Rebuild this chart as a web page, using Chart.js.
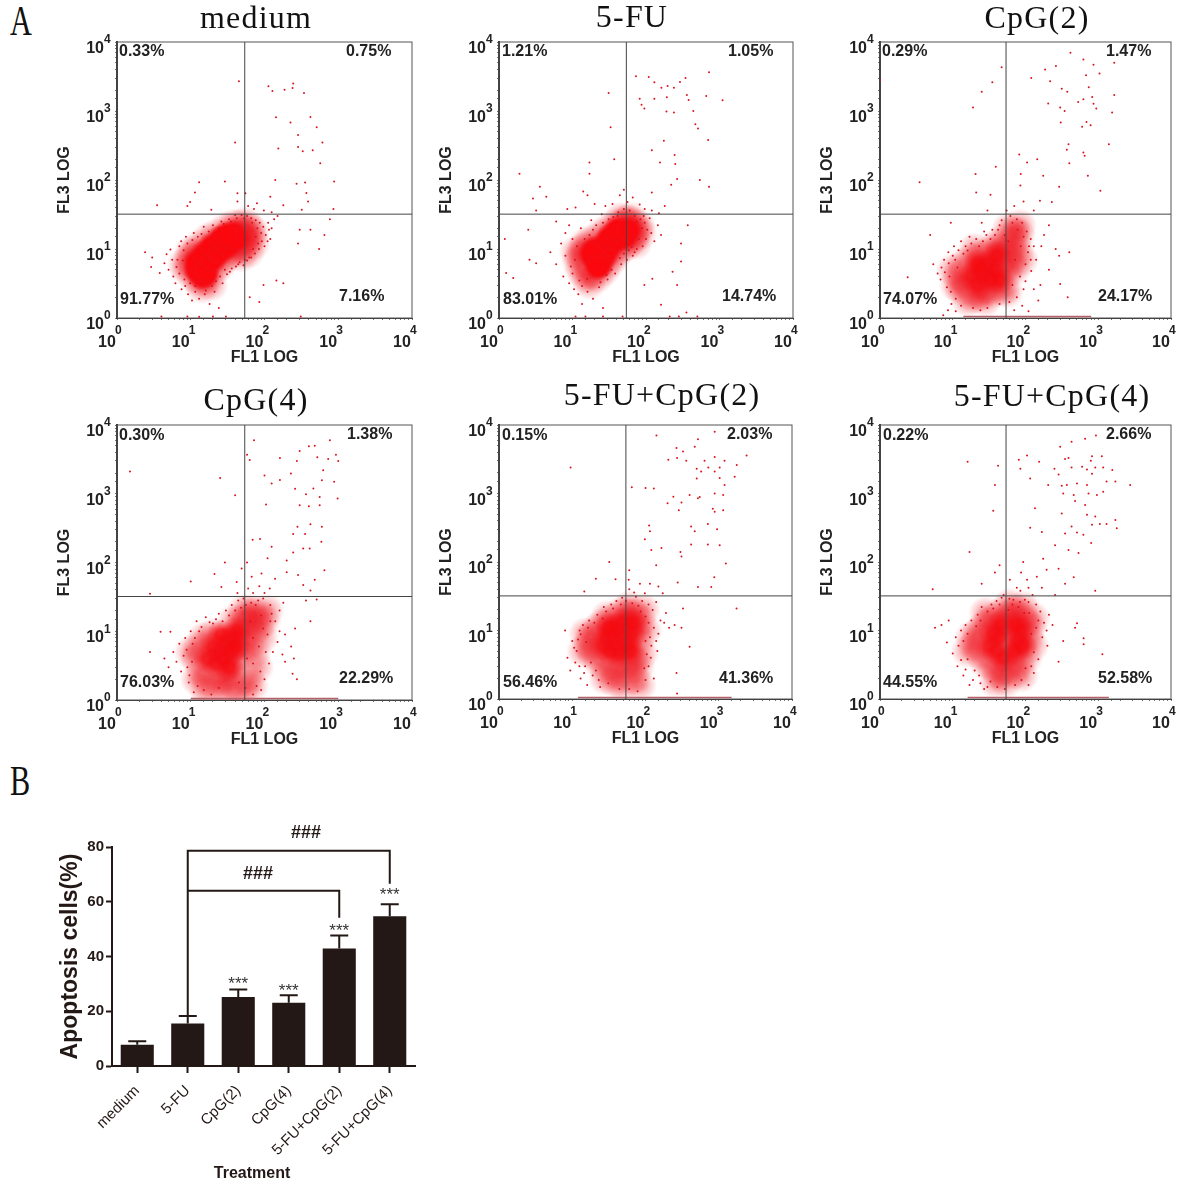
<!DOCTYPE html>
<html>
<head>
<meta charset="utf-8">
<title>Apoptosis flow cytometry</title>
<script src="https://cdn.jsdelivr.net/npm/chart.js@4"></script>
<style>
body { margin: 0; background: #fff; }
canvas { position: absolute; }
.tag { position: absolute; font: 42px "Liberation Serif", serif; color: #111; transform: scaleX(0.72); transform-origin: left top; }
</style>
</head>
<body>
<div class="tag" style="left:10px;top:-3px">A</div>
<div class="tag" style="left:10px;top:757px">B</div>
<script>
// ---- values ----
const gateX = 54;
const gateY = 32;
const tickPowers = [0, 1, 2, 3, 4];

const mediumCore = [[14,4],[16,4.2],[12,5],[13,5],[15,6.5],[12,6.5],[16,5],[18,8],[15,8.5],[20,7],[22,10],[19,11],[25,9],[28,12],[25,14],[32,11],[35,14],[38,17],[42,14],[30,16]];
const mediumMid = [[9,5],[9.5,7],[10,9],[11,4],[13,3.5],[17,3.8],[21,5],[25,6],[30,7.5],[36,9],[42,10],[48,11],[50,18],[45,22],[38,22],[30,20],[22,16],[17,14],[13,11],[11,8.5],[50,14],[58,13],[65,15],[70,18],[62,20],[55,24],[48,8],[60,9],[72,12],[8,6],[14,2.8],[19,3]];
const mediumDots = [[45,2700],[113,2290],[128,1950],[187,2040],[240,2150],[245,2500],[343,1830],[143,810],[420,820],[225,680],[510,580],[285,450],[40,350],[610,350],[154,285],[285,300],[450,270],[330,260],[570,175],[140,100],[880,95],[355,92],[272,88],[13,93],[29,95],[11.4,66],[860,38],[770,27],[420,19],[300,19],[650,16],[285,12],[550,10],[180,3.2],[145,3.5],[97,3],[63,2],[85,1.7],[3.5,43],[9,42],[9.8,48],[19,37],[43,49],[43,64],[55,64],[79,46],[120,57],[180,43],[320,37],[390,49],[370,65],
[3,7.5],[2.4,9],[2.9,5.5],[3.8,4.5],[4.4,6.2],[4.7,8.4],[5.3,9.8],[5.8,4],[6.2,3.2],[6.6,7],[7,11],[7.5,2.6],[8.2,3.6],[8,9.6],[7.4,13],[9.2,2.2],[10.4,1.8],[11.5,2.4],[13,1.9],[15.5,2.2],[18,1.6],[21,2.4],[24,1.4],[27,3.2],[31,4.3],[36,5.2],[41,5.6],[46,6.4],[52,5.8],[58,6.8],[66,7.5],[74,8.6],[84,10],[92,13],[104,16],[115,19],[96,21],[86,24],[76,26],[66,28],[58,30],[49,31],[42,28],[33,27],[26,25],[20,22],[15,21],[11,17],[8.6,15],[112,24],[135,27],[150,30],[125,34],[98,36],[72,38],[60,42],[30,1.05],[13,1.04],[9,1.05],[20,1.05],[4,1.05],[310,1.05],
[5,5],[5.6,7],[6.4,5.5],[7,4.4],[7.8,6.8],[8.4,2.9],[9,12],[9.8,3.2],[10.5,13.5],[11.5,2.9],[12.5,15],[14,16.5],[16,2.5],[17.5,18],[19.5,2.9],[22,3.4],[24,20],[28,23],[35,25],[40,31],[53,28],[68,24],[80,20],[90,17],[76,15],[82,12],[70,10],[62,7.5],[54,7],[44,6],[34,4.7],[29,5],[25,4],[100,11],[110,13],[125,20],[120,14]];
const fiveFuCore = [[20,7],[24,9],[20,10],[28,8],[28,12],[33,11],[36,14],[32,15],[42,14],[46,18],[52,15],[40,19],[58,19],[24,6],[18,8.5],[22,5.5]];
const fiveFuMid = [[13,5],[13,8],[14,10],[15,4],[18,4.5],[22,4],[27,5],[32,6.5],[38,8],[44,10],[52,11],[60,13],[68,15],[75,19],[80,22],[65,24],[55,26],[48,23],[38,22],[30,19],[24,16],[18,13],[15,12],[12,6.5],[17,3.2],[72,12],[85,17],[62,28],[45,28],[11,9]];
const fiveFuDots = [[31,1830],[33,580],[37,200],[17,180],[17,123],[1.9,123],[73,3200],[109,3100],[130,2600],[162,2170],[197,2300],[240,2170],[290,2640],[345,3000],[720,3650],[82,1500],[130,1500],[192,1580],[87,1230],[95,1090],[190,980],[240,950],[440,1000],[360,1700],[380,1440],[660,1650],[1100,1430],[470,640],[510,560],[700,380],[175,370],[120,270],[155,180],[245,230],[250,170],[540,100],[720,80],[265,103],[220,85],[120,66],[2.9,54],[3.2,36],[4.4,57],[3.6,80],[1.2,14],[1.25,4.5],[1.56,3.8],[2.5,19],[2.6,7],[3.2,6.2],[370,22],[300,12],[300,6.6],[230,4.7],[265,3],[122,3.7],[95,3],[160,1.55],[355,1.2],
[6,25],[8,17],[8.5,38],[11,40],[14,68],[16,60],[20,45],[28,42],[35,45],[44,60],[50,72],[56,48],[66,56],[82,44],[96,38],[120,36],[150,33],[180,42],[5,9],[6,6],[7,12],[7.5,4],[8,8],[9,3.2],[9.5,5.6],[10,14],[10.5,2.6],[12,2.2],[13.5,1.6],[16,2.4],[19,1.9],[23,2.8],[26,1.4],[30,3.6],[38,4.4],[46,6],[55,7],[66,8],[75,10],[90,11],[100,14],[118,17],[130,13],[145,22],[160,16],[112,28],[93,30],[9,22],[13,20],[18,26],[25,32],[15,1.05],[26,1.05],[48,1.05],[11,1.05],[210,1.05],[280,1.05],[500,1.05],
[10,4.4],[10.8,7],[11.5,11],[12.4,3.5],[13.5,2.9],[14.6,14],[15.8,3.7],[17,16],[19,19],[21,22],[24,3.3],[26,24],[29,4.2],[31,27],[34,5],[36,29],[41,30],[44,7.4],[50,8.6],[58,9.6],[64,10.7],[70,9],[80,14],[88,20],[96,24],[104,19],[70,30],[60,36],[50,38],[42,34],[84,27],[75,25]];

const cpg2Core = [[18,4],[22,3],[24,5],[28,4],[30,6],[34,3.6],[38,5],[40,8],[22,6],[44,3.6]];
const cpg2Mid = [[12,4],[13,2.6],[14,6],[15,3.2],[16,1.8],[18,7],[20,2],[24,2.2],[24,8],[28,1.8],[30,2.6],[32,9],[36,2.4],[38,11],[44,6.6],[46,10],[48,13],[50,2.6],[54,4.5],[56,8],[60,6],[64,10],[72,13],[78,9],[68,18],[82,16],[58,20],[10,5],[11,3],[90,7],[20,10],[70,5],[56,2.4],[84,22]];
const cpg2Dots = [[47,4300],[35,2600],[25,1900],[19,1120],[120,3000],[218,2700],[262,4500],[186,4000],[415,7000],[625,5600],[860,4700],[1660,5000],[680,3300],[740,2200],[1040,3500],[825,1600],[860,1270],[940,1090],[530,1350],[625,1480],[205,1280],[315,2100],[375,1900],[300,1120],[345,1000],[305,680],[690,690],[600,590],[785,620],[1550,950],[1660,1700],[1400,330],[390,330],[370,275],[625,250],[650,225],[400,175],[720,115],[1070,70],[145,200],[82,235],[39,155],[20.6,122],[86,122],[3.5,93],[290,80],[21,66],[33,61],[85,83],[94,49],[158,50],[230,48],[105,180],[175,115],[1,2800],[4.9,16],[9.4,24],[2.4,3.9],
[5.4,6],[6.2,4.4],[7,5.4],[7.6,7],[8.3,2.8],[8.7,9],[9,4],[9.6,1.6],[10.4,11],[10.8,7],[12,9.6],[13,13],[15,11],[17,15],[21,14],[25,24],[27,18],[33,14],[42,19],[47,26],[62,30],[76,27],[90,24],[104,18],[118,14],[130,11],[108,9],[140,7],[165,11],[180,16],[210,22],[260,10],[290,8],[120,4.8],[100,3.4],[130,2.6],[160,3],[210,5],[300,3.1],[380,2],[150,1.8],[90,1.5],[70,1.3],[110,1.25],[400,9],[70,42],[55,36],[130,36],[30,36],[7.4,1.1],[8.6,1.3],[11,1.25],
[6.8,3.6],[7.8,4.6],[8.8,6.2],[9.4,2.4],[10,8],[11,1.9],[11.6,5.4],[13,1.5],[14,8.5],[16,9.5],[18,12],[19,1.4],[23,11],[26,13],[29,16],[35,19],[38,16],[44,22],[52,16],[58,13],[66,24],[72,7],[78,19],[86,11],[94,15],[100,6],[112,11],[118,7],[84,4],[94,2.6],[66,3],[76,2],[60,1.7],[44,1.6],[30,1.4],[24,1.3]];
const cpg2Edge = [[14,1.05],[800,1.05]];

const cpg4Core = [[17,4],[20,6],[22,3.4],[25,5],[28,4],[30,7],[34,5],[38,8],[40,6],[42,10],[26,9],[33,3]];
const cpg4Mid = [[12,4],[13,6],[14,2.6],[15,8],[17,2],[20,9],[22,1.7],[26,2],[30,2.2],[36,2.4],[42,3.4],[46,4.6],[50,6.6],[54,9],[58,13],[48,14],[38,14],[60,6],[66,10],[72,15],[78,19],[64,20],[84,12],[92,8],[100,14],[110,20],[74,5],[80,3],[40,1.6],[60,2],[12,2],[16,1.3],[30,1.3],[50,1.3],[68,1.6],[52,20],[10,5]];
const cpg4Dots = [[1.5,2100],[25,1700],[40,950],[72,6000],[58,3700],[63,3100],[100,1850],[162,3300],[125,1410],[162,1580],[275,3000],[228,1970],[300,4200],[400,4900],[480,5000],[770,6000],[520,3400],[730,3200],[930,3700],[1000,3000],[625,2200],[600,1570],[880,1500],[260,1180],[365,980],[460,1190],[560,900],[980,850],[300,680],[400,660],[560,680],[105,700],[280,330],[420,360],[600,330],[245,260],[355,260],[590,200],[69,215],[87,220],[125,170],[335,160],[410,160],[245,140],[200,107],[110,115],[58,100],[29,100],[49,82],[10,53],[2.8,35],[21,68],[26,44],[42,52],[43,36],[67,62],[91,69],[139,58],[118,42],[200,72],[285,66],[335,47],[480,56],[650,77],[420,39],[510,29],[365,28],[420,14],[260,11],[3.9,9.8],[5.3,9.8],[2.8,5],[240,2.4],[275,2],
[4.4,4],[5,3],[5.8,5],[6.4,3.6],[7,6.6],[7.4,2.6],[8,4.4],[8.4,8],[9,3],[9.4,1.8],[10,10],[10.6,6.6],[11,1.3],[12,14],[13,10],[16,16],[20,13],[24,18],[30,20],[36,24],[44,28],[52,30],[66,26],[82,28],[96,30],[120,24],[140,14],[160,10],[150,7],[130,5],[115,3.4],[100,2],[90,1.4],[70,1.2],[175,4.6],[190,3.6],[230,6],[250,4],[190,9],[160,20],[180,26],[70,36],[85,45],[100,36],[60,42],
[8.8,5.4],[9.6,2.3],[10.4,3.6],[11.4,8],[12.4,1.6],[14,11.5],[15,1.4],[18,13.5],[19,1.2],[22,15],[24,1.5],[27,14],[33,17],[40,20],[45,1.8],[48,22],[56,24],[64,14],[70,8],[76,24],[84,6],[90,17],[96,11],[104,5],[110,9],[120,14],[125,18],[70,3.4],[58,4],[55,1.5],[78,1.6],[88,2.6]];
const cpg4Edge = [[10,1.05],[1000,1.05]];

const fc2Core = [[26,6],[30,8],[33,5],[36,9],[38,6],[42,11],[44,4.6],[50,8],[50,13],[56,6],[64,9],[66,13],[62,5],[32,11]];
const fc2Mid = [[17,6],[18,8],[19,4.6],[21,10],[23,3.6],[25,12],[28,3],[34,14],[38,3],[42,2.4],[46,18],[52,3.2],[55,18],[60,22],[70,17],[76,11],[80,7],[84,14],[90,4.6],[70,3.6],[64,2.8],[38,1.8],[50,1.6],[70,2],[28,2],[100,10],[95,20],[15,9],[14,5],[80,3],[30,16],[84,1.6]];
const fc2Dots = [[9.5,2400],[141,7000],[880,8000],[520,6200],[470,4800],[325,4100],[265,4600],[270,3300],[205,3100],[360,3000],[640,3000],[880,3400],[1200,3000],[2400,3600],[1760,2600],[500,2300],[720,2400],[575,2100],[880,2100],[1030,2400],[500,1650],[1030,1680],[1200,1330],[1650,1750],[65,1230],[100,1200],[130,1180],[880,1000],[1150,950],[520,850],[400,950],[240,900],[200,720],[310,740],[285,570],[550,890],[830,600],[1150,570],[880,540],[112,340],[115,280],[420,330],[470,280],[710,360],[950,300],[420,180],[710,180],[1030,175],[98,215],[120,150],[165,160],[300,140],[140,90],[32,100],[275,50],[870,60],[1250,95],[520,43],[790,43],[310,120],[21,57],[14.6,37],[39,56],[60,76],[59,55],[84,48],[115,48],[98,35],[172,35],[1750,21],[325,21],[250,12],[310,11],[400,5.8],[265,2.4],[270,1.2],
[8,10],[8.6,4],[9.4,2.6],[10,7],[10.6,5.6],[11,3.4],[12,7.4],[12.6,10],[13,2],[14,12],[15,3],[16,1.6],[17,14],[19,2.2],[22,17],[24,1.5],[27,22],[34,24],[40,27],[48,30],[74,31],[90,27],[110,24],[125,20],[140,26],[160,14],[130,11],[150,9],[120,6],[145,5],[110,3],[100,1.9],[130,2],[180,13],[210,11],[190,18],[60,40],[70,36],[150,44],
[11.5,5],[12.5,3],[13,8.8],[14.5,2.4],[15.5,6.8],[16.4,11],[18,3.4],[20,13],[21,2.6],[23,1.9],[26,15],[29,19],[31,1.7],[36,21],[44,1.4],[46,24],[54,27],[66,25],[80,23],[86,19],[100,16],[110,13],[115,8],[104,4.5],[96,2.8],[60,1.4],[78,1.3],[118,4],[140,7],[100,7]];
const fc2Edge = [[12,1.05],[1500,1.05]];

const fc4Core = [[32,6],[36,9],[40,5],[44,8],[46,12],[50,4],[78,7],[84,10],[74,12],[90,6],[70,5]];
const fc4Mid = [[20,6],[22,9],[24,4.6],[26,11],[28,3.4],[30,13],[36,3],[38,15],[42,2.4],[46,18],[52,2.6],[54,14],[60,8],[62,3.6],[64,16],[72,20],[82,3.4],[88,16],[100,13],[102,4],[108,8],[116,11],[94,22],[70,2.4],[54,1.8],[38,1.8],[90,2.2],[18,8],[16,5],[125,6],[130,15],[60,24],[28,18]];
const fc4Dots = [[16,2900],[42,2550],[38,1330],[36,560],[17,140],[5.3,40],[105,3600],[81,3100],[154,2900],[116,1650],[85,2300],[430,5700],[660,6300],[930,7000],[300,4800],[350,3200],[390,3300],[250,2300],[285,1900],[430,2400],[600,2450],[700,2250],[820,1950],[910,2400],[790,3000],[820,3500],[1120,3500],[1170,2400],[1560,2200],[1300,1500],[1720,1500],[2750,1330],[510,1400],[700,1330],[205,1330],[315,1300],[370,1330],[330,1000],[460,950],[735,1000],[960,950],[1170,1060],[660,680],[480,780],[135,610],[315,510],[700,490],[910,460],[1720,410],[1300,360],[1050,360],[430,330],[820,350],[1800,310],[168,275],[350,260],[510,270],[625,250],[800,190],[255,175],[390,150],[535,135],[175,112],[116,315],[93,100],[44,90],[38,70],[25,48],[87,70],[105,55],[143,61],[195,77],[285,80],[460,60],[910,38],[61,55],[76,42],[110,42],[168,42],[350,48],[255,33],[510,12.8],[480,11],[630,7.7],[630,6.3],[1140,4.5],[330,7],[285,3.5],[8.8,14],[7,12],[5.7,11],[8.3,6.7],
[10,4.6],[11,8],[11.6,3],[12,6],[13,10],[14,2.2],[15,12],[16,3.8],[17,1.6],[18,14],[20,2.6],[22,17],[24,1.7],[25,22],[30,1.5],[34,24],[40,27],[47,30],[68,28],[84,26],[110,26],[140,24],[160,19],[180,13],[170,8],[150,3.8],[130,2.4],[110,1.6],[200,6],[210,17],[195,10],[235,12],[50,33],[85,38],[125,33],
[13,3.7],[14,7],[15,2.7],[16,9],[19,1.9],[21,11.5],[23,2.2],[24,14],[27,1.4],[30,19],[33,1.8],[36,21],[41,1.5],[44,24],[52,1.4],[58,20],[66,24],[72,1.6],[80,22],[88,1.9],[96,18],[100,2.8],[112,18],[120,9],[130,4.8],[140,11],[150,14],[120,3],[98,28],[60,29]];
const fc4Edge = [[16,1.05],[1400,1.05]];

const panelTitles = ['medium', '5-FU', 'CpG(2)', 'CpG(4)', '5-FU+CpG(2)', '5-FU+CpG(4)'];
const panelPercents = [
  ['0.33%', '0.75%', '91.77%', '7.16%'],
  ['1.21%', '1.05%', '83.01%', '14.74%'],
  ['0.29%', '1.47%', '74.07%', '24.17%'],
  ['0.30%', '1.38%', '76.03%', '22.29%'],
  ['0.15%', '2.03%', '56.46%', '41.36%'],
  ['0.22%', '2.66%', '44.55%', '52.58%']
];
const panelCores = [mediumCore, fiveFuCore, cpg2Core, cpg4Core, fc2Core, fc4Core];
const panelMids = [mediumMid, fiveFuMid, cpg2Mid, cpg4Mid, fc2Mid, fc4Mid];
const panelDots = [mediumDots, fiveFuDots, cpg2Dots, cpg4Dots, fc2Dots, fc4Dots];
const panelEdges = [[], [], cpg2Edge, cpg4Edge, fc2Edge, fc4Edge];

const treatments = ['medium', '5-FU', 'CpG(2)', 'CpG(4)', '5-FU+CpG(2)', '5-FU+CpG(4)'];
const apoptosisMean = [7.8, 15.5, 25.2, 23.1, 42.9, 54.7];
const apoptosisTop = [9.0, 18.3, 27.9, 25.8, 47.7, 59.1];
const starLevels = [null, null, 31, 28.5, 50.4, 63.5];
const bracketWide = [['5-FU', 18.3], ['5-FU', 78.6], ['5-FU+CpG(4)', 78.6], ['5-FU+CpG(4)', 66.6]];
const bracketNarrow = [['5-FU', 64], ['5-FU+CpG(2)', 64], ['5-FU+CpG(2)', 54.2]];

// ---- page layout ----
const INK = '#231815';
const FONT = '"Liberation Sans", Arial, sans-serif';
const SERIF = '"Liberation Serif", serif';
Chart.defaults.font.family = FONT;
Chart.defaults.animation = false;

const plots = [
  { x: 117, y: 42, w: 295, h: 276.5 },
  { x: 499, y: 42, w: 294, h: 276.5 },
  { x: 880, y: 42, w: 291, h: 276 },
  { x: 117, y: 425, w: 295, h: 275 },
  { x: 499, y: 425, w: 293, h: 274 },
  { x: 880, y: 425, w: 291, h: 274 }
];
const titlePos = [[256, 20], [632, 19], [1037, 20], [256, 402], [662, 397], [1052, 398]];
const percentPos = [
  [[119, 52], [346, 52], [120, 300], [339, 297]],
  [[502, 52], [728, 52], [503, 300], [722, 297]],
  [[882, 52], [1106, 52], [883, 300], [1098, 297]],
  [[119, 436], [347, 435], [120, 683], [339, 679]],
  [[502, 436], [727, 435], [503, 683], [719, 679]],
  [[883, 436], [1106, 435], [883, 683], [1098, 679]]
];

function xy(pairs) {
  return pairs.map(function (p) { return { x: p[0], y: p[1] }; });
}

// soft round marker, the dense part of a cloud has no hard edge in the photo
function softDot(radius, solid, color) {
  const c = document.createElement('canvas');
  c.width = c.height = radius * 2;
  const g = c.getContext('2d');
  const grad = g.createRadialGradient(radius, radius, 0, radius, radius, radius);
  grad.addColorStop(0, color);
  grad.addColorStop(solid, color);
  grad.addColorStop(1, 'rgba(240,20,30,0)');
  g.fillStyle = grad;
  g.fillRect(0, 0, radius * 2, radius * 2);
  return c;
}
const coreSolid = softDot(14, 0.6, 'rgba(250,8,14,1)');
const coreSpeckled = softDot(15, 0.35, 'rgba(245,10,16,0.8)');
const haloDot = softDot(17, 0.2, 'rgba(238,18,28,0.42)');

// texts at page positions, converted with the canvas origin
const pageText = {
  id: 'pageText',
  afterDraw: function (chart, args, opts) {
    const ctx = chart.ctx;
    ctx.save();
    ctx.textBaseline = 'middle';
    (opts.items || []).forEach(function (t) {
      ctx.font = t.font;
      ctx.letterSpacing = t.spacing || '0px';
      ctx.fillStyle = t.color || '#222';
      ctx.textAlign = t.align || 'left';
      ctx.fillText(t.text, t.x - opts.left, t.y - opts.top);
    });
    ctx.restore();
  }
};

// box round the plot and the small exponents of the log ticks
const logFrame = {
  id: 'logFrame',
  beforeDatasetsDraw: function (chart) {
    const a = chart.chartArea, ctx = chart.ctx;
    ctx.save();
    ctx.strokeStyle = '#555';
    ctx.lineWidth = 1;
    ctx.strokeRect(a.left, a.top, a.width, a.height);
    ctx.restore();
  },
  afterDraw: function (chart) {
    const ctx = chart.ctx, sx = chart.scales.x, sy = chart.scales.y;
    ctx.save();
    ctx.font = 'bold 12px ' + FONT;
    ctx.fillStyle = '#222';
    ctx.textBaseline = 'middle';
    ctx.textAlign = 'left';
    tickPowers.forEach(function (p) {
      const v = Math.pow(10, p);
      ctx.fillText(String(p), sx.getPixelForValue(v) - 2, sy.bottom + 13);
      ctx.fillText(String(p), sx.left - 13, sy.getPixelForValue(v) - 2);
    });
    ctx.restore();
  }
};

function logAxis(title, size, horizontal) {
  return {
    type: 'logarithmic',
    min: 1,
    max: 10000,
    title: { display: true, text: title, color: '#222', padding: 0, font: { size: 16, weight: 'bold' } },
    border: { display: true, color: '#333', width: horizontal ? 1 : 2 },
    grid: { drawOnChartArea: false, tickLength: 2, tickColor: '#777' },
    ticks: {
      autoSkip: false,
      maxRotation: 0,
      color: '#222',
      padding: horizontal ? 13 : 11,
      labelOffset: horizontal ? -10 : 6.7,
      font: { size: 16, weight: 'bold' },
      callback: function (v) { return tickPowers.indexOf(Math.round(Math.log10(v) * 1000) / 1000) >= 0 ? '10' : ''; }
    },
    afterFit: function (s) {
      if (horizontal) s.height = size; else s.width = size;
    }
  };
}

panelTitles.forEach(function (title, i) {
  const p = plots[i];
  const leftW = 62, botH = 49, rightW = 30, topH = i < 3 ? 42 : 45;
  const left = p.x - leftW, top = p.y - topH;
  const canvas = document.createElement('canvas');
  canvas.width = leftW + p.w + rightW;
  canvas.height = topH + p.h + botH;
  canvas.style.left = left + 'px';
  canvas.style.top = top + 'px';
  document.body.appendChild(canvas);

  const items = [{ text: title, x: titlePos[i][0], y: titlePos[i][1], font: '32px ' + SERIF, spacing: '1.2px', align: 'center', color: '#111' }];
  panelPercents[i].forEach(function (txt, k) {
    items.push({ text: txt, x: percentPos[i][k][0], y: percentPos[i][k][1], font: 'bold 16px ' + FONT });
  });

  new Chart(canvas, {
    type: 'scatter',
    plugins: [logFrame, pageText],
    data: {
      datasets: [
        { data: xy([[gateX, 1], [gateX, 10000]]), showLine: true, pointRadius: 0, borderColor: '#444', borderWidth: 1 },
        { data: xy([[1, gateY], [10000, gateY]]), showLine: true, pointRadius: 0, borderColor: '#444', borderWidth: 1 },
        { data: xy(panelEdges[i]), showLine: true, pointRadius: 0, borderColor: '#b8606a', borderWidth: 1.5 },
        { data: xy(panelDots[i]), pointRadius: 1, pointBorderWidth: 0, pointBackgroundColor: '#d8141e' },
        { data: xy(panelCores[i]), pointRadius: 10, pointStyle: i < 2 ? coreSolid : coreSpeckled },
        { data: xy(panelMids[i]), pointRadius: 10, pointStyle: haloDot }
      ]
    },
    options: {
      responsive: false,
      layout: { padding: { top: topH, right: rightW } },
      plugins: {
        legend: { display: false },
        tooltip: { enabled: false },
        pageText: { items: items, left: left, top: top }
      },
      scales: { x: logAxis('FL1 LOG', botH, true), y: logAxis('FL3 LOG', leftW, false) }
    }
  });
});

// ---- panel B ----
const errorBars = {
  id: 'errorBars',
  afterDatasetsDraw: function (chart) {
    const ctx = chart.ctx, sx = chart.scales.x, sy = chart.scales.y;
    ctx.save();
    ctx.strokeStyle = INK;
    ctx.lineWidth = 2;
    treatments.forEach(function (t, i) {
      const x = sx.getPixelForValue(i);
      const y0 = sy.getPixelForValue(apoptosisMean[i]);
      const y1 = sy.getPixelForValue(apoptosisTop[i]);
      ctx.beginPath();
      ctx.moveTo(x, y0);
      ctx.lineTo(x, y1);
      ctx.moveTo(x - 9, y1);
      ctx.lineTo(x + 9, y1);
      ctx.stroke();
    });
    ctx.font = '17px ' + FONT;
    ctx.fillStyle = '#333';
    ctx.textAlign = 'center';
    ctx.textBaseline = 'middle';
    starLevels.forEach(function (v, i) {
      if (v !== null) ctx.fillText('***', sx.getPixelForValue(i), sy.getPixelForValue(v) + 3);
    });
    ctx.restore();
  }
};

const barBox = { left: 57, top: 810, width: 372, height: 380 };
const barCanvas = document.createElement('canvas');
barCanvas.width = barBox.width;
barCanvas.height = barBox.height;
barCanvas.style.left = barBox.left + 'px';
barCanvas.style.top = barBox.top + 'px';
document.body.appendChild(barCanvas);

new Chart(barCanvas, {
  type: 'bar',
  plugins: [errorBars, pageText],
  data: {
    labels: treatments,
    datasets: [
      { type: 'line', data: bracketWide.map(function (b) { return { x: b[0], y: b[1] }; }), borderColor: INK, borderWidth: 2, pointRadius: 0, tension: 0 },
      { type: 'line', data: bracketNarrow.map(function (b) { return { x: b[0], y: b[1] }; }), borderColor: INK, borderWidth: 2, pointRadius: 0, tension: 0 },
      { data: apoptosisMean, backgroundColor: INK, barPercentage: 0.655, categoryPercentage: 1 }
    ]
  },
  options: {
    responsive: false,
    layout: { padding: { top: 37, right: 14 } },
    plugins: {
      legend: { display: false },
      tooltip: { enabled: false },
      pageText: {
        left: barBox.left,
        top: barBox.top,
        items: [
          { text: '###', x: 306, y: 833, font: 'bold 18px ' + FONT, align: 'center', color: INK },
          { text: '###', x: 258, y: 874, font: 'bold 18px ' + FONT, align: 'center', color: INK },
          { text: 'Treatment', x: 252, y: 1174, font: 'bold 16px ' + FONT, align: 'center', color: INK }
        ]
      }
    },
    scales: {
      x: {
        border: { color: INK, width: 2 },
        grid: { offset: false, drawOnChartArea: false, tickColor: INK, tickWidth: 2, tickLength: 7 },
        ticks: { autoSkip: false, minRotation: 45, maxRotation: 45, color: INK, padding: 9, font: { size: 15 } },
        afterFit: function (s) { s.height = 124; }
      },
      y: {
        min: 0,
        max: 80,
        title: { display: true, text: 'Apoptosis cells(%)', color: INK, padding: 0, font: { size: 23, weight: 'bold' } },
        border: { color: INK, width: 2 },
        grid: { drawOnChartArea: false, tickColor: INK, tickWidth: 2, tickLength: 6 },
        ticks: { stepSize: 20, color: INK, padding: 2, font: { size: 15, weight: 'bold' } },
        afterFit: function (s) { s.width = 55; }
      }
    }
  }
});
</script>
</body>
</html>
